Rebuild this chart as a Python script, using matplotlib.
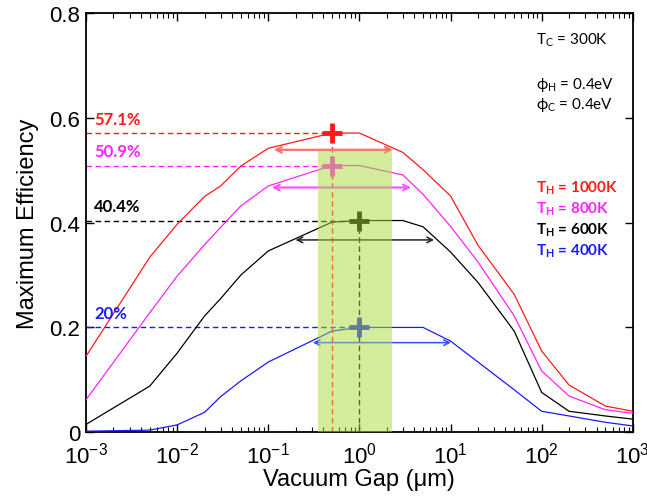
import matplotlib.pyplot as plt
import numpy as np

# vacuum gap (um) and maximum efficiency for each hot-side temperature
gap = [1e-3, 5e-3, 1e-2, 2e-2, 3e-2, 5e-2, 0.1, 0.5, 1, 3, 5, 10, 20, 50, 100, 200, 500, 1000]
eff_1000 = [0.145, 0.334, 0.397, 0.450, 0.470, 0.508, 0.542, 0.571, 0.571, 0.534, 0.501, 0.451,
            0.357, 0.263, 0.155, 0.090, 0.050, 0.040]
eff_800 = [0.062, 0.228, 0.298, 0.358, 0.391, 0.432, 0.470, 0.509, 0.509, 0.491, 0.454, 0.393,
           0.325, 0.222, 0.117, 0.069, 0.043, 0.036]
eff_600 = [0.015, 0.088, 0.151, 0.222, 0.255, 0.300, 0.346, 0.401, 0.404, 0.404, 0.392, 0.344,
           0.286, 0.193, 0.076, 0.040, 0.031, 0.025]
eff_400 = [0.002, 0.004, 0.014, 0.038, 0.068, 0.098, 0.134, 0.193, 0.200, 0.200, 0.200, 0.174,
           0.134, 0.081, 0.040, 0.031, 0.019, 0.012]

labels = ['1000K', '800K', '600K', '400K']
colors = ['#ff1a1a', '#ff22ff', '#000000', '#1a1aff']
arrow_colors = ['#ff7070', '#ff55ff', '#222222', '#3050ff']

# optimum gap and peak efficiency for each curve
peak_gap = [0.5, 0.5, 1.0, 1.0]
peak_eff = [0.571, 0.509, 0.404, 0.200]
peak_text = ['57.1%', '50.9%', '40.4%', '20%']

# near-optimum gap range for each curve (left, right, level)
range_lo = [0.115, 0.109, 0.199, 0.308]
range_hi = [2.34, 3.7, 6.6, 10.1]
range_eff = [0.539, 0.467, 0.367, 0.171]

# practical gap window
window = [0.35, 2.3]
window_top = 0.537

plt.rcParams['font.family'] = ['Liberation Sans', 'DejaVu Sans']
plt.rcParams['mathtext.fontset'] = 'custom'
plt.rcParams['mathtext.rm'] = 'Liberation Sans'

fig = plt.figure(figsize=(6.47, 5.02), dpi=100)
ax = fig.add_axes([0.133, 0.137, 0.845, 0.835])

series = [eff_1000, eff_800, eff_600, eff_400]
for eff, c in zip(series, colors):
    ax.plot(gap, eff, color=c, lw=0.9, zorder=3)

for i in range(4):
    c = colors[i]
    # dashed guides to the optimum
    ax.plot([1e-3, peak_gap[i]], [peak_eff[i], peak_eff[i]], color=c, lw=1.0,
            ls=(0, (4, 2.5)), zorder=2)
    ax.plot(peak_gap[i], peak_eff[i], marker='+', ms=14, mew=3.5, color=c, zorder=4)
    ax.annotate('', xy=(range_hi[i], range_eff[i]), xytext=(range_lo[i], range_eff[i]),
                arrowprops=dict(arrowstyle='<->', color=arrow_colors[i],
                                lw=1.6 if i < 2 else 1.1, shrinkA=0, shrinkB=0,
                                mutation_scale=10),
                zorder=3)
    ax.text(1.22e-3, peak_eff[i] + 0.027, peak_text[i], color=c, fontsize=12,
            fontweight='bold', family=['Lato', 'DejaVu Sans'], va='center', ha='left')

# vertical guides from the two optimum gaps
ax.plot([0.5, 0.5], [0, 0.571], color='#ff1a1a', lw=1.0, ls=(0, (4, 2.5)), zorder=2)
ax.plot([1.0, 1.0], [0, 0.404], color='#000000', lw=1.0, ls=(0, (4, 2.5)), zorder=2)

ax.fill_between(window, 0, window_top, color='#a8dc3c', alpha=0.5, lw=0, zorder=5)

# parameter notes
note_font = ['Lato', 'DejaVu Sans']
ax.text(0.823, 0.938, r'T$_\mathregular{C}$ = 300K', transform=ax.transAxes,
        fontsize=11, family=note_font, va='center')
ax.text(0.823, 0.830, r'ϕ$_\mathregular{H}$ = 0.4eV', transform=ax.transAxes,
        fontsize=11, family=note_font, va='center')
ax.text(0.823, 0.782, r'ϕ$_\mathregular{C}$ = 0.4eV', transform=ax.transAxes,
        fontsize=11, family=note_font, va='center')
for i, lab in enumerate(labels):
    ax.text(0.823, 0.585 - i * 0.05, r'T$_\mathregular{H}$ = ' + lab, transform=ax.transAxes,
            fontsize=11, family=note_font, fontweight='bold', color=colors[i], va='center')

ax.set_xscale('log')
ax.set_xlim(1e-3, 1e3)
ax.set_ylim(0, 0.8)
ax.set_yticks([0, 0.2, 0.4, 0.6, 0.8])
ax.set_yticklabels(['0', '0.2', '0.4', '0.6', '0.8'])
ax.tick_params(which='both', direction='in', top=True, right=True, labelsize=16)
ax.tick_params(which='major', length=6, width=1.0)
ax.tick_params(which='minor', length=3.5, width=0.8)
ax.tick_params(axis='x', pad=7)
ax.tick_params(axis='y', pad=4)
for s in ax.spines.values():
    s.set_linewidth(1.3)

ax.set_xlabel('Vacuum Gap (μm)', fontsize=17, labelpad=0)
ax.set_ylabel('Maximum Efficiency', fontsize=17, labelpad=8)

fig.savefig('out.png', dpi=100)
